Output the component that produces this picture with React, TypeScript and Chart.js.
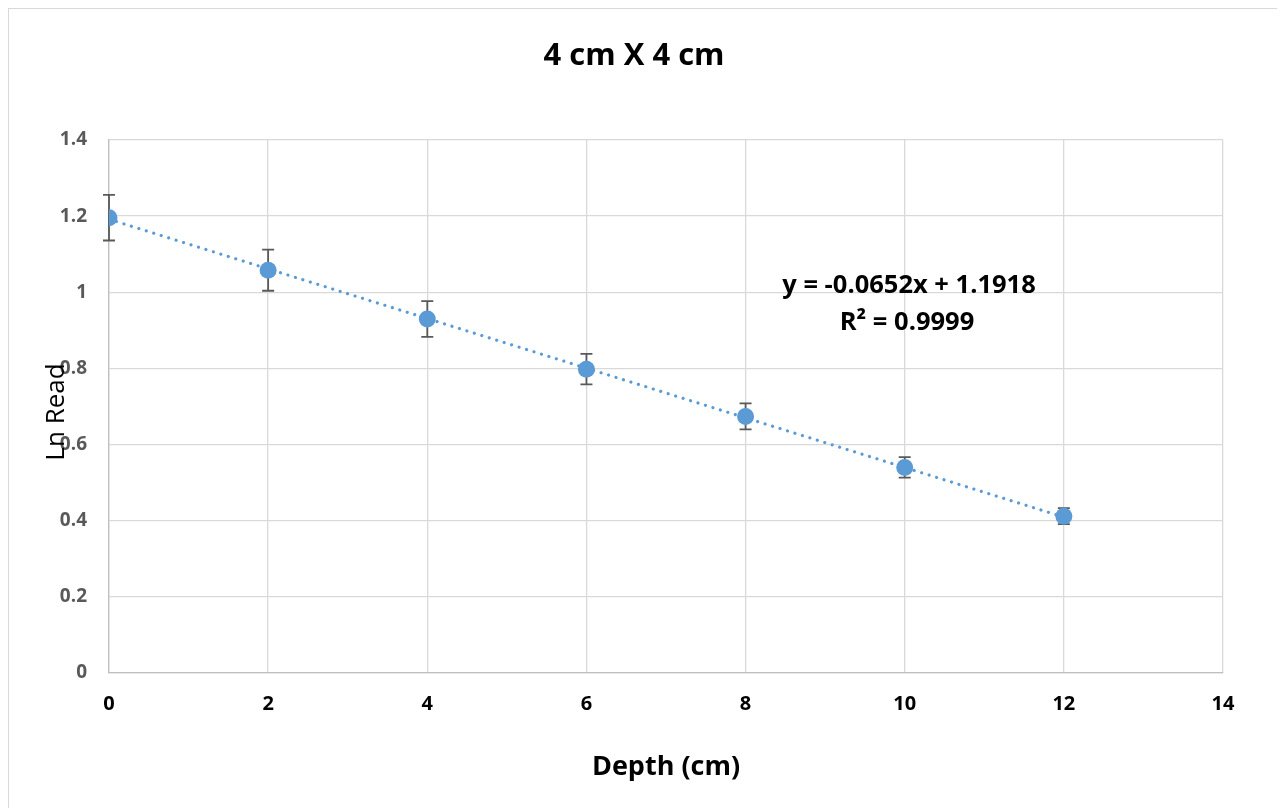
import React, { useEffect, useRef } from "react";
import { Chart, registerables } from "chart.js";

Chart.register(...registerables);

const depthCm = [0, 2, 4, 6, 8, 10, 12];
const lnRead = [1.196, 1.058, 0.93, 0.798, 0.674, 0.54, 0.412];
const errorAmount = [0.06, 0.054, 0.047, 0.04, 0.034, 0.027, 0.021];
const trendX = [0, 12];
const trendY = [1.1918, 0.4094];
const titleText = "4 cm X 4 cm";
const equationLines = ["y = -0.0652x + 1.1918", "R² = 0.9999"];
const xTitle = "Depth (cm)";
const yTitle = "Ln Read";

const BLUE = "#5b9bd5";
const FONT = "'Open Sans', 'Liberation Sans', sans-serif";

const overlayPlugin = {
  id: "overlay",
  afterDatasetDraw(chart: any, args: any) {
    if (args.index !== 1) return;
    const { ctx, scales } = chart;
    const xs = scales.x;
    const ys = scales.y;
    ctx.save();
    ctx.strokeStyle = "#595959";
    ctx.lineWidth = 1.8;
    for (let i = 0; i < depthCm.length; i++) {
      const px = xs.getPixelForValue(depthCm[i]);
      const top = ys.getPixelForValue(lnRead[i] + errorAmount[i]);
      const bot = ys.getPixelForValue(lnRead[i] - errorAmount[i]);
      ctx.beginPath();
      ctx.moveTo(px, top);
      ctx.lineTo(px, bot);
      ctx.moveTo(px - 6, top);
      ctx.lineTo(px + 6, top);
      ctx.moveTo(px - 6, bot);
      ctx.lineTo(px + 6, bot);
      ctx.stroke();
    }
    ctx.restore();
  },
  afterDraw(chart: any) {
    const { ctx } = chart;
    ctx.save();
    ctx.fillStyle = "#000";
    ctx.textAlign = "center";
    ctx.textBaseline = "middle";
    ctx.font = `bold 31px ${FONT}`;
    ctx.fillText(titleText, 625, 47);
    ctx.font = `bold 25.5px ${FONT}`;
    ctx.fillText(equationLines[0], 900, 277);
    ctx.fillText(equationLines[1], 898, 314);
    ctx.font = `bold 27px ${FONT}`;
    ctx.fillText(xTitle, 657, 758);
    ctx.translate(48, 403);
    ctx.rotate(-Math.PI / 2);
    ctx.font = `26px ${FONT}`;
    ctx.fillText(yTitle, 0, 0);
    ctx.restore();
  },
};

export default function App() {
  const ref = useRef<HTMLCanvasElement>(null);
  useEffect(() => {
    const canvas = ref.current;
    if (!canvas) return;
    const chart = new Chart(canvas, {
      type: "scatter",
      data: {
        datasets: [
          {
            label: "Ln Read",
            data: depthCm.map((x, i) => ({ x, y: lnRead[i] })),
            backgroundColor: BLUE,
            borderWidth: 0,
            pointRadius: 8.5,
            showLine: false,
          },
          {
            label: "Trend",
            data: trendX.map((x, i) => ({ x, y: trendY[i] })),
            showLine: true,
            borderColor: BLUE,
            borderWidth: 3.2,
            borderDash: [0.01, 7.8],
            borderCapStyle: "round",
            pointRadius: 0,
            fill: false,
          },
        ],
      },
      options: {
        animation: false,
        responsive: false,
        layout: { padding: { top: 131, left: 0, right: 56, bottom: 0 } },
        plugins: {
          legend: { display: false },
          tooltip: { enabled: false },
          title: { display: false },
        },
        scales: {
          x: {
            type: "linear",
            min: 0,
            max: 14,
            ticks: {
              stepSize: 2,
              color: "#000",
              font: { family: FONT, size: 20, weight: "bold" },
              padding: 19,
            },
            grid: { color: "#d9d9d9", lineWidth: 1.3, drawTicks: false },
            border: { color: "#bfbfbf", width: 1.3 },
            afterFit(scale: any) {
              scale.height = 136;
            },
          },
          y: {
            type: "linear",
            min: 0,
            max: 1.4,
            ticks: {
              stepSize: 0.2,
              color: "#595959",
              font: { family: FONT, size: 19, weight: "bold" },
              padding: 22,
              callback: (v: any) => String(Number(Number(v).toFixed(1))),
            },
            grid: { color: "#d9d9d9", lineWidth: 1.3, drawTicks: false },
            border: { color: "#bfbfbf", width: 1.3 },
            afterFit(scale: any) {
              scale.width = 100;
            },
          },
        },
      } as any,
      plugins: [overlayPlugin],
    });
    return () => chart.destroy();
  }, []);
  return (
    <div
      style={{
        width: 1270,
        height: 800,
        border: "1px solid #d9d9d9",
        background: "#fff",
      }}
    >
      <canvas ref={ref} width={1270} height={800} style={{ width: 1270, height: 800, display: "block" }} />
    </div>
  );
}
